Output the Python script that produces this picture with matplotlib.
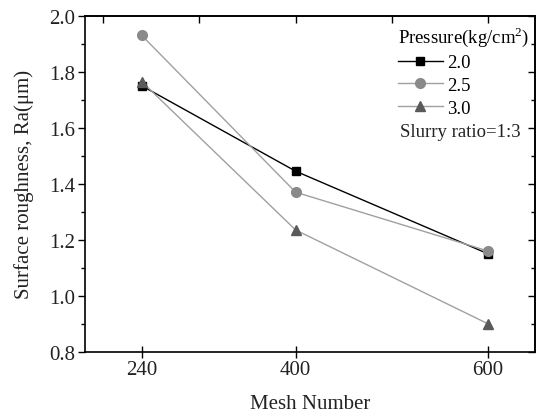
import matplotlib.pyplot as plt
import numpy as np
from matplotlib.ticker import MultipleLocator

plt.rcParams['font.family'] = ['Liberation Serif', 'DejaVu Serif']
plt.rcParams['mathtext.fontset'] = 'custom'
plt.rcParams['mathtext.rm'] = 'Liberation Serif'

mesh = [240, 400, 600]
ra_20 = [1.75, 1.445, 1.15]
ra_25 = [1.93, 1.37, 1.16]
ra_30 = [1.765, 1.235, 0.90]
labels = ["2.0", "2.5", "3.0"]

fig = plt.figure(figsize=(5.36, 4.14), dpi=100)
ax = fig.add_axes([0.1586, 0.148, 0.8395, 0.8115])

ax.plot(mesh, ra_20, color="black", lw=1.0, marker="s", ms=6, mfc="black", mec="black", label=labels[0])
ax.plot(mesh, ra_25, color="#a0a0a0", lw=1.0, marker="o", ms=7, mfc="#8a8a8a", mec="#8a8a8a", label=labels[1])
ax.plot(mesh, ra_30, color="#a0a0a0", lw=1.0, marker="^", ms=7, mfc="#5a5a5a", mec="#5a5a5a", label=labels[2])

ax.set_xlim(181, 649)
ax.set_ylim(0.8, 2.0)
ax.set_xticks(mesh)
ax.yaxis.set_major_locator(MultipleLocator(0.2))
ax.yaxis.set_minor_locator(MultipleLocator(0.1))
ax.yaxis.set_major_formatter(plt.FuncFormatter(lambda v, p: f"{v:.1f}"))
ax.tick_params(axis="y", which="major", direction="out", length=5, width=1, labelsize=15, pad=2)
ax.tick_params(axis="y", which="minor", direction="out", length=3, width=1)
ax.tick_params(axis="x", which="major", direction="inout", length=8, width=1, labelsize=15, pad=2)
for lbl in ax.get_yticklabels() + ax.get_xticklabels():
    lbl.set_color("#222222")

top = ax.secondary_xaxis("top")
top.set_xticks([200, 300, 400, 500, 600])
top.tick_params(direction="in", length=5, width=1, labeltop=False)
right = ax.secondary_yaxis("right")
right.yaxis.set_major_locator(MultipleLocator(0.2))
right.yaxis.set_minor_locator(MultipleLocator(0.1))
right.tick_params(which="major", direction="in", length=5, width=1, labelright=False)
right.tick_params(which="minor", direction="in", length=3, width=1)

for sp in list(ax.spines.values()) + list(top.spines.values()) + list(right.spines.values()):
    sp.set_linewidth(1.2)

ax.set_xlabel("Mesh Number", fontsize=15, color="#222222", labelpad=11)
ax.set_ylabel("Surface roughness, Ra(\u03bcm)", fontsize=15, color="#222222", labelpad=11)

leg = ax.legend(title="Pressure(kg/cm$^2$)", loc="upper left", bbox_to_anchor=(0.687, 0.985),
                frameon=False, fontsize=13.5, title_fontsize=13.5, handlelength=2.4,
                handletextpad=0.2, labelspacing=0.3, borderaxespad=0.0, borderpad=0.2)
leg._legend_box.align = "left"
ax.text(0.70, 0.655, "Slurry ratio=1:3", transform=ax.transAxes, fontsize=13.5, color="#222222",
        ha="left", va="center")

fig.savefig("out.png", dpi=100)
